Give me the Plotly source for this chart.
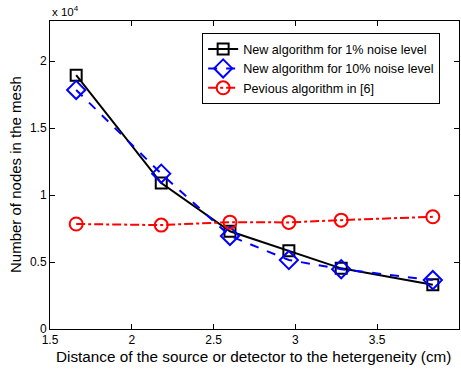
import plotly.graph_objects as go

x_vals = [1.66, 2.18, 2.60, 2.96, 3.28, 3.84]
new_1pct = [18950, 10900, 7300, 5840, 4530, 3300]
new_10pct = [17850, 11600, 6950, 5150, 4470, 3650]
previous = [7840, 7760, 7980, 7960, 8130, 8380]

names = ["New algorithm for 1% noise level",
         "New algorithm for 10% noise level",
         "Pevious algorithm in [6]"]

x_ticks = [1.5, 2, 2.5, 3, 3.5, 4]
x_ticktext = ["1.5", "2", "2.5", "3", "3.5", "4"]
y_tickvals = [0, 5000, 10000, 15000, 20000]
y_ticktext = ["0", "0.5", "1", "1.5", "2"]

x_title = "Distance of the source or detector to the hetergeneity (cm)"
y_title = "Number of nodes in the mesh"

fig = go.Figure()
fig.add_trace(go.Scatter(x=x_vals, y=new_1pct, name=names[0], mode="lines+markers",
                         line=dict(color="black", width=2),
                         marker=dict(symbol="square-open", size=11, color="black", line=dict(width=2))))
fig.add_trace(go.Scatter(x=x_vals, y=new_10pct, name=names[1], mode="lines+markers",
                         line=dict(color="blue", width=2, dash="dash"),
                         marker=dict(symbol="diamond-open", size=14, color="blue", line=dict(width=2))))
fig.add_trace(go.Scatter(x=x_vals, y=previous, name=names[2], mode="lines+markers",
                         line=dict(color="red", width=2, dash="dashdot"),
                         marker=dict(symbol="circle-open", size=13, color="red", line=dict(width=2))))

font = "Liberation Sans, Arial, sans-serif"
fig.update_layout(
    width=461, height=370,
    margin=dict(l=50, r=2, t=21, b=41),
    paper_bgcolor="white", plot_bgcolor="white",
    font=dict(family=font, size=12, color="black"),
    showlegend=True,
    legend=dict(x=0.372, y=0.96, xanchor="left", yanchor="top",
                bgcolor="white", bordercolor="black", borderwidth=1,
                font=dict(size=12.6), tracegroupgap=0, itemwidth=30),
    xaxis=dict(range=[1.5, 4], tickvals=x_ticks, ticktext=x_ticktext,
               ticks="inside", ticklen=5, tickcolor="black", mirror="ticks",
               showline=True, linecolor="black", linewidth=1, showgrid=False, zeroline=False,
               automargin=False),
    yaxis=dict(range=[0, 23000], tickvals=y_tickvals, ticktext=y_ticktext,
               ticks="inside", ticklen=5, tickcolor="black", mirror="ticks",
               showline=True, linecolor="black", linewidth=1, showgrid=False, zeroline=False,
               automargin=False),
    annotations=[
        dict(text="x 10<sup>4</sup>", x=0, y=1, xref="paper", yref="paper",
             xanchor="left", yanchor="bottom", showarrow=False,
             font=dict(size=11.5), yshift=1),
        dict(text=x_title, x=0.5, y=0, xref="paper", yref="paper",
             xanchor="center", yanchor="middle", showarrow=False,
             font=dict(size=15.3), yshift=-27, xshift=-1),
        dict(text=y_title, x=0, y=0.5, xref="paper", yref="paper",
             xanchor="center", yanchor="middle", showarrow=False, textangle=-90,
             font=dict(size=15), xshift=-35),
    ],
)

fig.write_html("out.html", config={"displayModeBar": False},
               post_script="document.body.style.margin='0';document.body.style.padding='0';")
